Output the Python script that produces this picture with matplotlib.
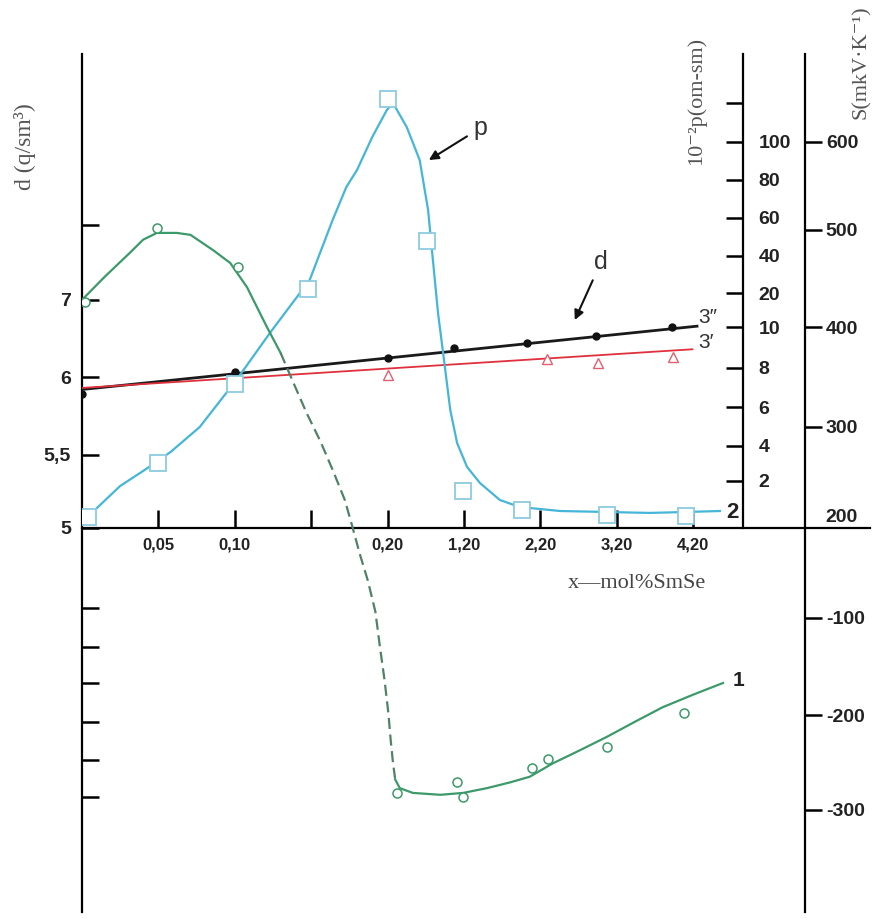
import numpy as np
import matplotlib
matplotlib.use("Agg")
import matplotlib.pyplot as plt

# --- axis scales as printed in the figure (value -> position on the page) ---
X_VALS = [-1, 0, 0.05, 0.10, 0.15, 0.20, 1.20, 2.20, 3.20, 4.20, 20]
X_POS = [-20, 0, 1, 2, 3, 4, 5, 6, 7, 8, 23.8]
X_TICKS = [0.05, 0.10, 0.15, 0.20, 1.20, 2.20, 3.20, 4.20]
X_LABELS = ["0,05", "0,10", "", "0,20", "1,20", "2,20", "3,20", "4,20"]

D_VALS = [-5, 1.5, 2, 2.5, 3, 3.5, 4, 5, 5.5, 6, 7, 8, 12]
D_POS = [-763, -269, -232, -194, -155, -119, -80, 0, 73, 151, 228, 303, 603]
D_TICKS = [1.5, 2, 2.5, 3, 3.5, 4, 5, 5.5, 6, 7, 8]
D_LABELS = ["", "", "", "", "", "", "5", "5,5", "6", "7", ""]

RHO_VALS = [-100, 0, 2, 4, 6, 8, 10, 20, 40, 60, 80, 100, 120, 300]
RHO_POS = [-1891, 9, 47, 82, 121, 160, 201, 235, 272, 310, 348, 386, 425, 767]
RHO_TICKS = [2, 4, 6, 8, 10, 20, 40, 60, 80, 100, 120]
RHO_LABELS = ["2", "4", "6", "8", "10", "20", "40", "60", "80", "100", ""]

S_VALS = [-1000, -300, -200, -100, 0, 200, 300, 400, 500, 600, 1000]
S_POS = [-947, -282, -187, -90, 0, 12, 101, 201, 298, 386, 738]
S_TICKS = [-300, -200, -100, 200, 300, 400, 500, 600]
S_LABELS = ["-300", "-200", "-100", "200", "300", "400", "500", "600"]

# --- curve 1: thermo-emf S ---
s_pts_x = [0.002, 0.049, 0.102, 0.32, 1.11, 1.19, 2.09, 2.30, 3.07, 4.08]
s_pts = [426, 502, 462, -282, -271, -286, -256, -246, -234, -198]
s_top_x = [0, 0.015, 0.031, 0.040, 0.049, 0.062, 0.071, 0.086, 0.097, 0.108,
           0.121, 0.130]
s_top = [428, 452, 476, 490, 497, 497, 495, 479, 466, 441, 400, 374]
s_dash_x = [0.130, 0.139, 0.147, 0.156, 0.164, 0.172, 0.177, 0.182, 0.187,
            0.192, 0.195, 0.198, 0.21, 0.24, 0.27, 0.30]
s_dash = [374, 342, 314, 284, 252, 218, 17, -30, -58, -93, -130, -164, -198,
          -226, -250, -268]
s_low_x = [0.30, 0.36, 0.53, 0.89, 1.19, 1.50, 1.80, 2.06, 2.36, 2.72, 3.07,
           3.44, 3.80, 4.20, 4.59]
s_low = [-268, -277, -282, -284, -282, -277, -271, -265, -251, -237, -223,
         -207, -192, -179, -167]

# --- curve 2: resistivity ---
rho_pts_x = [0.004, 0.05, 0.10, 0.148, 0.201, 0.72, 1.19, 1.96, 3.07, 4.11]
rho_pts = [0.11, 3.03, 7.18, 22.2, 122, 47.9, 1.47, 0.47, 0.21, 0.16]
rho_line_x = [0.0098, 0.025, 0.041, 0.058, 0.077, 0.101, 0.123, 0.149, 0.164,
              0.173, 0.180, 0.190, 0.1995, 0.27, 0.45, 0.62, 0.73, 0.86, 0.95,
              1.02, 1.11, 1.24, 1.41, 1.67, 1.93, 2.46, 3.06, 3.63, 4.11, 4.55]
rho_line = [0.58, 1.74, 2.63, 3.66, 4.97, 7.38, 9.71, 27.0, 58.9, 76.3, 85.3,
            102.6, 116.4, 120, 107.7, 90.5, 64.2, 14.1, 8.05, 5.85, 4.15, 2.8,
            1.89, 1.0, 0.63, 0.42, 0.37, 0.32, 0.37, 0.42]

# --- curves 3'' and 3': density ---
d3a_x = [0.0, 0.10, 0.20, 1.07, 2.02, 2.93, 3.92]
d3a = [5.89, 6.06, 6.25, 6.38, 6.44, 6.53, 6.65]
d3a_fit_x = [0.0, 4.25]
d3a_fit = [5.92, 6.66]
d3b_x = [0.20, 2.29, 2.95, 3.94]
d3b = [6.03, 6.23, 6.18, 6.26]
d3b_fit_x = [0.0, 4.19]
d3b_fit = [5.93, 6.36]


def funcs(vals, pos):
    vals = np.asarray(vals, float)
    pos = np.asarray(pos, float)
    return (lambda v: np.interp(v, vals, pos)), (lambda p: np.interp(p, pos, vals))


W, H = 880, 919
L, R, T, B = 82, 870, 54, 912   # frame in pixels
X_AXIS_PX = 528
STEP = 76.4

GREEN = "#3c9a6a"
BLUE = "#45b6d8"
NUM = dict(family="Liberation Sans", weight="bold", color="#222222")
SERIF = ["Liberation Serif", "DejaVu Serif"]

fig = plt.figure(figsize=(W / 100, H / 100), dpi=100)
ax = fig.add_axes([L / W, 1 - B / H, (R - L) / W, (B - T) / H])

xf, xi = funcs(X_VALS, X_POS)
df, di = funcs(D_VALS, D_POS)
rf, ri = funcs(RHO_VALS, RHO_POS)
sf, si = funcs(S_VALS, S_POS)

ax.set_xscale("function", functions=(xf, xi))
ax.set_yscale("function", functions=(df, di))
ax.set_xlim(xi(0), xi((R - L) / STEP))
p_lo, p_hi = X_AXIS_PX - B, X_AXIS_PX - T
ax.set_ylim(di(p_lo), di(p_hi))

axr = ax.twinx()
axr.set_yscale("function", functions=(rf, ri))
axr.set_ylim(ri(p_lo), ri(p_hi))
axs = ax.twinx()
axs.set_yscale("function", functions=(sf, si))
axs.set_ylim(si(p_lo), si(p_hi))

# frame
for a in (ax, axr, axs):
    for sp in a.spines.values():
        sp.set_visible(False)
        sp.set_linewidth(1.6)
ax.spines["left"].set_visible(True)
ax.spines["bottom"].set_visible(True)
ax.spines["bottom"].set_position(("data", 5.0))
axr.spines["right"].set_visible(True)
axr.spines["right"].set_position(("axes", (743 - L) / (R - L)))
axr.spines["right"].set_bounds(ri(0), ri(p_hi))
axs.spines["right"].set_visible(True)
axs.spines["right"].set_position(("axes", (805 - L) / (R - L)))

ax.set_xticks(X_TICKS, X_LABELS)
ax.set_yticks(D_TICKS, D_LABELS)
axr.set_yticks(RHO_TICKS, RHO_LABELS)
axs.set_yticks(S_TICKS, S_LABELS)
ax.minorticks_off(); axr.minorticks_off(); axs.minorticks_off()

ax.tick_params(axis="x", direction="in", length=13, width=1.8, pad=7, labelsize=12)
ax.tick_params(axis="y", direction="in", length=12, width=1.8, pad=8, labelsize=14)
axr.tick_params(axis="y", direction="in", length=12, width=1.8, pad=11, labelsize=14)
axs.tick_params(axis="y", direction="out", length=12, width=1.8, pad=3, labelsize=14)
for a in (ax, axr, axs):
    for lb in a.get_xticklabels() + a.get_yticklabels():
        lb.set(**NUM)
# no tick mark at 200 on the S scale
axs.yaxis.get_major_ticks()[S_TICKS.index(200)].tick2line.set_visible(False)

# curve 1
axs.plot(s_top_x, s_top, color=GREEN, lw=1.6, zorder=3)
axs.plot(s_dash_x, s_dash, color="#4f8266", lw=1.6, ls=(0, (5, 2.5)), zorder=3)
axs.plot(s_low_x, s_low, color=GREEN, lw=1.6, zorder=3)
axs.plot(s_pts_x, s_pts, ls="none", marker="o", ms=6.5, mfc="white",
         mec=GREEN, mew=1.1, zorder=4)

# curve 2
axr.plot(rho_line_x, rho_line, color=BLUE, lw=1.6, zorder=3)
axr.plot(rho_pts_x, rho_pts, ls="none", marker="s", ms=12, mfc="white",
         mec="#8ccbe0", mew=1.3, zorder=4)

# curves 3
ax.plot(d3a_fit_x, d3a_fit, color="#1a1a1a", lw=2.0, zorder=3)
ax.plot(d3a_x, d3a, ls="none", marker="o", ms=5, color="#111111", zorder=4)
ax.plot(d3b_fit_x, d3b_fit, color="#e0303c", lw=1.3, zorder=3)
ax.plot(d3b_x, d3b, ls="none", marker="^", ms=7, mfc="white",
        mec="#e06070", mew=1.0, zorder=4)

# labels on curves
arrow = dict(arrowstyle="-|>", color="#111111", lw=1.5, mutation_scale=14,
             shrinkA=3, shrinkB=0)
axr.annotate("p", xy=(0.74, 90.5), xytext=(37, 23), textcoords="offset points",
             ha="center", va="center", fontsize=18, family="Liberation Sans",
             color="#333333", arrowprops=arrow)
ax.annotate("d", xy=(2.65, 6.74), xytext=(19, 42), textcoords="offset points",
            ha="center", va="center", fontsize=18, family="Liberation Sans",
            color="#333333", arrowprops=arrow)
axr.text(4.72, 0.32, "2", ha="center", va="center", fontsize=16, **NUM)
axs.text(4.79, -164, "1", ha="center", va="center", fontsize=15, **NUM)
ax.text(4.26, 6.77, "3\u2033", ha="left", va="center", fontsize=15,
        family="Liberation Sans", color="#333333")
ax.text(4.26, 6.45, "3\u2032", ha="left", va="center", fontsize=15,
        family="Liberation Sans", color="#333333")

# axis titles
fig.text(25 / W, 1 - 147 / H, "d (q/sm\u00b3)", rotation=90, ha="center",
         va="center", fontsize=17, family=SERIF, color="#555555")
fig.text(696 / W, 1 - 101 / H, "10\u207b\u00b2p(om-sm)", rotation=90,
         ha="center", va="center", fontsize=16, family=SERIF, color="#555555")
fig.text(861 / W, 1 - 62 / H, "S(mkV\u00b7K\u207b\u00b9)", rotation=90,
         ha="center", va="center", fontsize=16, family=SERIF, color="#555555")
fig.text(637 / W, 1 - 583 / H, "x\u2014mol%SmSe", ha="center", va="center",
         fontsize=16, family=SERIF, color="#444444")

fig.savefig("out.png", dpi=100)
